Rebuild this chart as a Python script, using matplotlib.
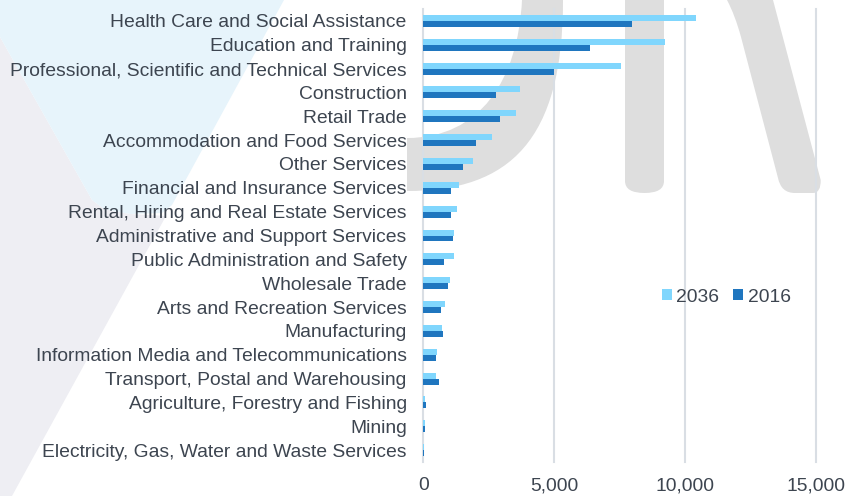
import matplotlib
matplotlib.use("Agg")
import matplotlib.pyplot as plt
import numpy as np
from matplotlib.path import Path
from matplotlib.patches import PathPatch, Polygon, Patch

# ---- data -------------------------------------------------------------
categories = [
    "Health Care and Social Assistance",
    "Education and Training",
    "Professional, Scientific and Technical Services",
    "Construction",
    "Retail Trade",
    "Accommodation and Food Services",
    "Other Services",
    "Financial and Insurance Services",
    "Rental, Hiring and Real Estate Services",
    "Administrative and Support Services",
    "Public Administration and Safety",
    "Wholesale Trade",
    "Arts and Recreation Services",
    "Manufacturing",
    "Information Media and Telecommunications",
    "Transport, Postal and Warehousing",
    "Agriculture, Forestry and Fishing",
    "Mining",
    "Electricity, Gas, Water and Waste Services",
]
series_names = ["2036", "2016"]
values_2036 = [10430, 9250, 7550, 3680, 3530, 2610, 1900, 1360, 1300, 1180,
               1160, 1010, 820, 710, 510, 490, 60, 50, 20]
values_2016 = [7990, 6350, 4980, 2760, 2920, 2000, 1520, 1070, 1070, 1120,
               780, 930, 690, 740, 470, 590, 90, 60, 15]
x_ticks = [0, 5000, 10000, 15000]
x_tick_labels = ["0", "5,000", "10,000", "15,000"]

# ---- style ------------------------------------------------------------
W, H, DPI = 847, 496, 100
plt.rcParams["font.family"] = ["Liberation Sans", "DejaVu Sans"]
TEXT = "#3d4550"
LIGHT = "#80d6fd"
DARK = "#1f76bf"
GRID = "#d9dee4"
FS = 13.9

fig = plt.figure(figsize=(W / DPI, H / DPI), dpi=DPI)
fig.patch.set_facecolor("white")

# ---- faint logo backdrop (pixel coordinates) ---------------------------
bg = fig.add_axes([0, 0, 1, 1], zorder=0)
bg.set_xlim(0, W)
bg.set_ylim(H, 0)
bg.axis("off")

bg.add_patch(Polygon([(0, 37), (92, 200), (104, 209), (130, 214), (166, 216),
                      (12, 496), (0, 496)],
                     closed=True, facecolor="#eeeef3", edgecolor="none"))
bg.add_patch(Polygon([(0, 0), (284, 0), (172, 205), (162, 213), (130, 214),
                      (104, 209), (92, 200), (0, 37)],
                     closed=True, facecolor="#e7f4fb", edgecolor="none"))

GREY = "#dedede"
M, L, C3, C4, CL = Path.MOVETO, Path.LINETO, Path.CURVE3, Path.CURVE4, Path.CLOSEPOLY

j_verts = [(563, 0), (563, 140), (510, 191), (407, 191), (407, 138),
           (480, 138), (518, 80), (522, 0), (563, 0)]
j_codes = [M, C4, C4, C4, L, C4, C4, C4, CL]
bg.add_patch(PathPatch(Path(j_verts, j_codes), facecolor=GREY, edgecolor="none"))

bar_verts = [(625, 0), (625, 181), (625, 193), (644.5, 193), (664, 193),
             (664, 181), (664, 0), (625, 0)]
bar_codes = [M, L, C3, C3, C3, C3, L, CL]
bg.add_patch(PathPatch(Path(bar_verts, bar_codes), facecolor=GREY, edgecolor="none"))

diag_verts = [(727, 0), (735, 15), (741, 37), (778, 178), (781, 193), (795, 193),
              (813, 193), (821, 193), (820.7, 180), (773, 0), (727, 0)]
diag_codes = [M, C3, C3, L, C3, C3, L, C3, C3, L, CL]
bg.add_patch(PathPatch(Path(diag_verts, diag_codes), facecolor=GREY, edgecolor="none"))

# ---- bar chart ----------------------------------------------------------
left_px, right_px, top_px, bottom_px = 423.3, 816.0, 9.0, 462.0
ax = fig.add_axes([left_px / W, 1 - bottom_px / H,
                   (right_px - left_px) / W, (bottom_px - top_px) / H], zorder=1)
ax.patch.set_alpha(0)

n = len(categories)
y = np.arange(n)
h = 0.25
ax.barh(y - h / 2, values_2036, height=h, color=LIGHT, linewidth=0, zorder=3)
ax.barh(y + h / 2, values_2016, height=h, color=DARK, linewidth=0, zorder=3)

ax.set_xlim(0, 15000)
ax.set_ylim(n - 0.5, -0.5)
ax.set_yticks(y)
ax.set_yticklabels(categories)
ax.set_xticks(x_ticks)
ax.set_xticklabels(x_tick_labels)
ax.tick_params(axis="y", length=0, pad=12, labelsize=FS, labelcolor=TEXT)
ax.tick_params(axis="x", length=0, pad=11, labelsize=FS, labelcolor=TEXT)
for s in ax.spines.values():
    s.set_visible(False)
ax.xaxis.grid(True, color=GRID, linewidth=1.5, zorder=1)
ax.set_axisbelow(True)
for gl in ax.get_xgridlines():
    gl.set_clip_on(False)

handles = [Patch(facecolor=LIGHT), Patch(facecolor=DARK)]
fig.legend(handles, series_names, loc="center left",
           bbox_to_anchor=(662 / W, 1 - 297 / H), frameon=False, ncol=2,
           handlelength=0.5, handleheight=0.5, handletextpad=0.25,
           columnspacing=0.72, borderpad=0, borderaxespad=0,
           fontsize=FS, labelcolor=TEXT)

fig.savefig("out.png", dpi=DPI, facecolor="white")
